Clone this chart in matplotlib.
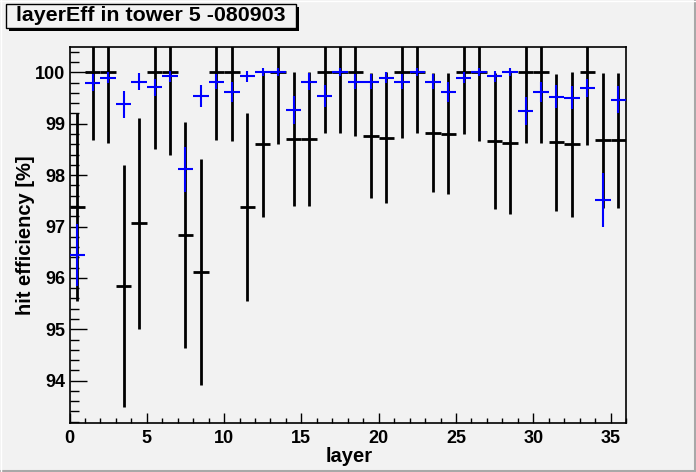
import matplotlib
matplotlib.use("Agg")
import matplotlib.pyplot as plt
from matplotlib.patches import Rectangle
from matplotlib.lines import Line2D
from matplotlib.ticker import MultipleLocator
import numpy as np

# ---- data ----
layers = list(range(36))
black_val = [97.38, 100, 100, 95.84, 97.06, 100, 100, 96.83, 96.11, 100, 100, 97.38,
             98.60, 100, 98.70, 98.70, 100, 100, 100, 98.77, 98.73, 100, 100, 98.83,
             98.81, 100, 100, 98.66, 98.62, 100, 100, 98.64, 98.60, 100, 98.68, 98.68]
black_err = [1.83, 1.32, 1.38, 2.35, 2.05, 1.49, 1.60, 2.20, 2.20, 1.32, 1.34, 1.83,
             1.41, 1.40, 1.30, 1.30, 1.17, 1.17, 1.23, 1.22, 1.27, 1.27, 1.17, 1.16,
             1.18, 1.19, 1.34, 1.32, 1.38, 1.38, 1.37, 1.33, 1.41, 1.41, 1.31, 1.31]
blue_val = [96.45, 99.80, 99.90, 99.38, 99.82, 99.71, 99.92, 98.11, 99.54, 99.82, 99.62, 99.92,
            100.0, 100.0, 99.27, 99.82, 99.54, 100.0, 99.82, 99.82, 99.90, 99.82, 100.0, 99.82,
            99.62, 99.90, 100.0, 99.92, 100.0, 99.25, 99.62, 99.53, 99.51, 99.70, 97.52, 99.47]
blue_err = [0.60, 0.17, 0.11, 0.26, 0.16, 0.17, 0.10, 0.44, 0.21, 0.14, 0.20, 0.10,
            0.08, 0.08, 0.27, 0.16, 0.21, 0.08, 0.14, 0.14, 0.10, 0.14, 0.08, 0.14,
            0.19, 0.10, 0.08, 0.10, 0.08, 0.27, 0.20, 0.23, 0.22, 0.18, 0.52, 0.26]

title = "layerEff in tower 5 -080903"
xlabel = "layer"
ylabel = "hit efficiency [%]"

W, H = 696, 472
BG = "#f2f2f2"
FONT = "Liberation Sans"

fig = plt.figure(figsize=(W / 100, H / 100), dpi=100, facecolor=BG)

# frame position in pixels
fl, fr, ft, fb = 69.5, 626.0, 46.7, 423.3
ax = fig.add_axes([fl / W, (H - fb) / H, (fr - fl) / W, (fb - ft) / H])
ax.set_facecolor(BG)

x = np.array(layers) + 0.5
ax.errorbar(x, black_val, yerr=black_err, xerr=0.5, fmt="none",
            ecolor="black", elinewidth=2.0, capsize=0, zorder=2)
ax.errorbar(x, blue_val, yerr=blue_err, xerr=0.5, fmt="none",
            ecolor="#0000ff", elinewidth=1.5, capsize=0, zorder=3)

ax.set_xlim(0, 36)
ax.set_ylim(93.17, 100.5)

ax.xaxis.set_major_locator(MultipleLocator(5))
ax.xaxis.set_minor_locator(MultipleLocator(1))
ax.yaxis.set_major_locator(MultipleLocator(1))
ax.yaxis.set_minor_locator(MultipleLocator(0.2))

ax.tick_params(axis="y", which="major", direction="in", length=12.5, width=1.0,
               left=True, right=False, pad=3)
ax.tick_params(axis="y", which="minor", direction="in", length=6.2, width=1.0,
               left=True, right=False)
ax.tick_params(axis="x", which="major", direction="in", length=7.5, width=1.0,
               bottom=True, top=False, pad=5)
ax.tick_params(axis="x", which="minor", direction="in", length=3.6, width=1.0,
               bottom=True, top=False)

for lab in ax.get_xticklabels() + ax.get_yticklabels():
    lab.set_fontfamily(FONT)
    lab.set_fontweight("bold")
    lab.set_fontsize(13)

for sp in ax.spines.values():
    sp.set_linewidth(1.2)
    sp.set_color("black")

ax.set_xlabel(xlabel, fontfamily=FONT, fontweight="bold", fontsize=14.5, va="center")
ax.set_ylabel(ylabel, fontfamily=FONT, fontweight="bold", fontsize=14.5, va="center")
ax.xaxis.set_label_coords((349 - fl) / (fr - fl), (fb - 456) / (fb - ft))
ax.yaxis.set_label_coords((26 - fl) / (fr - fl), 0.5)

# title box with shadow (ROOT style)
bx0, by0, bx1, by1 = 6, 3.5, 296, 27.5
shadow = Rectangle(((bx0 + 3) / W, (H - by1 - 3) / H), (bx1 - bx0) / W, (by1 - by0) / H,
                   transform=fig.transFigure, facecolor="black", edgecolor="none", zorder=5)
box = Rectangle((bx0 / W, (H - by1) / H), (bx1 - bx0) / W, (by1 - by0) / H,
                transform=fig.transFigure, facecolor=BG, edgecolor="black",
                linewidth=1.0, zorder=6)
fig.patches.extend([shadow, box])
fig.text((bx0 + bx1) / 2 / W, 1 - (by0 + by1) / 2 / H, title, ha="center", va="center",
         fontfamily=FONT, fontweight="bold", fontsize=15.4, zorder=7)

# canvas bevel border
fig.lines.append(Line2D([0, 1], [1.5 / H, 1.5 / H], transform=fig.transFigure,
                        color="#a8a8a8", linewidth=2.2))
fig.lines.append(Line2D([1 - 1.5 / W, 1 - 1.5 / W], [0, 1], transform=fig.transFigure,
                        color="#a8a8a8", linewidth=2.2))
fig.lines.append(Line2D([0, 1], [1 - 0.5 / H, 1 - 0.5 / H], transform=fig.transFigure,
                        color="#ffffff", linewidth=1.0))
fig.lines.append(Line2D([0.5 / W, 0.5 / W], [0, 1], transform=fig.transFigure,
                        color="#ffffff", linewidth=1.0))

fig.savefig("out.png", dpi=100, facecolor=BG)
